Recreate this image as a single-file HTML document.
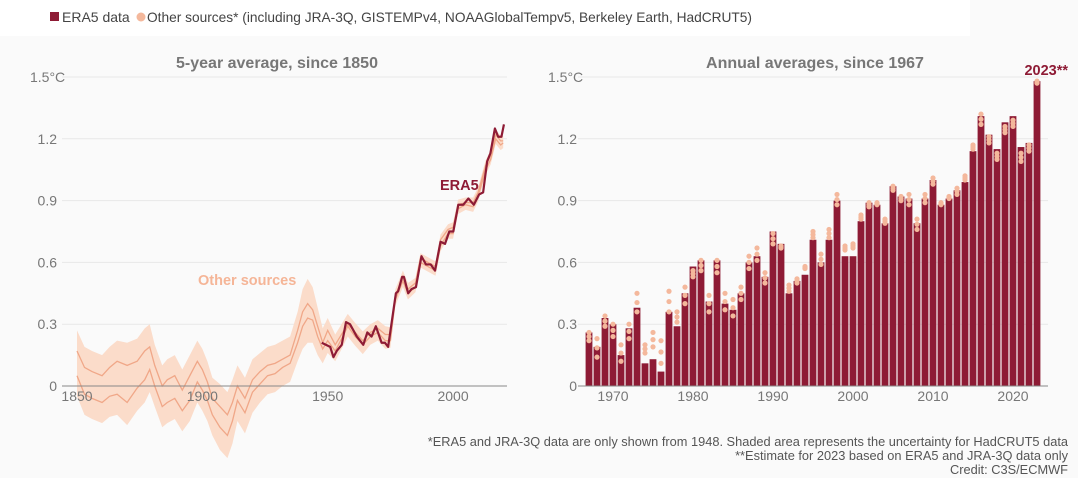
<!DOCTYPE html>
<html><head><meta charset="utf-8"><style>
html,body{margin:0;padding:0;background:#fafafa;}
body{width:1078px;height:478px;overflow:hidden;position:relative;font-family:"Liberation Sans",sans-serif;}
#legend{position:absolute;left:0;top:0;width:970px;height:36px;background:#fff;}
svg{position:absolute;left:0;top:0;}
</style></head><body>
<div id="legend"></div>
<svg id="c" width="1078" height="478"></svg>
<script>
// ---- Right chart data (annual averages) ----
const barYears=[1967,1968,1969,1970,1971,1972,1973,1974,1975,1976,1977,1978,1979,1980,1981,1982,1983,1984,1985,1986,1987,1988,1989,1990,1991,1992,1993,1994,1995,1996,1997,1998,1999,2000,2001,2002,2003,2004,2005,2006,2007,2008,2009,2010,2011,2012,2013,2014,2015,2016,2017,2018,2019,2020,2021,2022,2023];
const era5Annual=[0.26,0.19,0.33,0.30,0.15,0.28,0.38,0.11,0.13,0.07,0.36,0.29,0.45,0.58,0.61,0.41,0.61,0.40,0.37,0.45,0.60,0.63,0.53,0.75,0.69,0.45,0.51,0.54,0.71,0.60,0.71,0.90,0.63,0.63,0.80,0.89,0.88,0.79,0.97,0.92,0.91,0.79,0.91,1.00,0.88,0.91,0.95,0.99,1.14,1.31,1.22,1.15,1.28,1.31,1.16,1.18,1.48];
const otherLow=[0.22,0.14,0.29,0.24,0.12,0.23,0.36,0.16,0.19,0.11,0.36,0.31,0.40,0.53,0.56,0.36,0.55,0.37,0.34,0.42,0.57,0.61,0.50,0.69,0.67,0.46,0.50,0.57,0.72,0.59,0.72,0.88,0.66,0.67,0.81,0.87,0.88,0.79,0.95,0.90,0.88,0.76,0.89,0.98,0.88,0.91,0.93,1.00,1.15,1.27,1.18,1.10,1.23,1.26,1.09,1.14,1.47];
const otherHigh=[0.26,0.23,0.34,0.30,0.20,0.30,0.45,0.20,0.26,0.22,0.46,0.36,0.48,0.56,0.61,0.44,0.61,0.45,0.42,0.48,0.63,0.67,0.55,0.74,0.68,0.49,0.52,0.58,0.75,0.64,0.76,0.93,0.68,0.69,0.83,0.89,0.89,0.81,0.97,0.92,0.93,0.81,0.93,1.01,0.89,0.92,0.96,1.02,1.17,1.32,1.21,1.13,1.26,1.29,1.13,1.17,1.48];
const yTicks=[0,0.3,0.6,0.9,1.2,1.5];
const yTickLabels=["0","0.3","0.6","0.9","1.2","1.5°C"];
const xTicksRight=[1970,1980,1990,2000,2010,2020];
const xTicksLeft=[1850,1900,1950,2000];
// ---- Left chart data (5-year averages) ----
const eraYears=[1947.6,1951,1952.3,1953.6,1955.6,1957.3,1958.9,1961.6,1964.2,1965.8,1967.5,1969.2,1971.5,1972.8,1974.1,1977.2,1978.1,1979.7,1980.4,1982.1,1983.4,1985.2,1987.4,1989.2,1991.1,1992.8,1995,1996.8,1998.5,2000.1,2002.1,2004.1,2006.1,2008.3,2010.4,2012,2013.6,2014.9,2016.7,2018,2019.3,2020.3];
const eraVals=[0.21,0.19,0.14,0.17,0.20,0.31,0.30,0.24,0.20,0.26,0.24,0.29,0.21,0.21,0.19,0.45,0.46,0.53,0.53,0.45,0.47,0.48,0.63,0.59,0.59,0.56,0.70,0.69,0.75,0.75,0.88,0.88,0.91,0.88,0.93,0.94,1.09,1.13,1.25,1.21,1.21,1.27];
const otherYears=[1850,1853,1856,1860,1863,1866,1870,1874,1877,1879,1881,1884,1886,1889,1892,1895,1898,1900,1902,1904,1907,1910,1912,1914,1917,1920,1923,1926,1929,1932,1935,1938,1940,1942,1944,1946,1948,1950,1953,1956,1958,1961,1964,1967,1970,1973,1975,1977,1980,1982,1985,1987,1990,1993,1995,1998,2000,2002,2005,2008,2010,2013,2015,2017,2019,2020];
const otherA=[0.05,-0.04,-0.06,-0.08,-0.05,-0.04,-0.08,-0.01,0.03,0.08,0.0,-0.1,-0.08,-0.06,-0.12,-0.07,0.02,-0.02,-0.07,-0.14,-0.2,-0.24,-0.17,-0.07,-0.13,-0.03,0.01,0.05,0.06,0.09,0.11,0.21,0.29,0.33,0.32,0.24,0.18,0.22,0.17,0.24,0.29,0.24,0.20,0.24,0.26,0.22,0.22,0.42,0.51,0.45,0.48,0.60,0.58,0.56,0.68,0.74,0.74,0.86,0.88,0.87,0.92,1.05,1.10,1.20,1.17,1.18];
const otherB=[0.17,0.09,0.07,0.05,0.09,0.12,0.10,0.12,0.17,0.19,0.10,0.0,0.03,0.05,-0.02,0.05,0.12,0.08,0.02,-0.06,-0.10,-0.14,-0.08,0.0,-0.06,0.03,0.07,0.10,0.11,0.13,0.15,0.27,0.36,0.40,0.37,0.29,0.21,0.27,0.20,0.26,0.30,0.26,0.22,0.26,0.28,0.25,0.25,0.44,0.53,0.47,0.50,0.62,0.60,0.58,0.71,0.76,0.77,0.88,0.89,0.89,0.94,1.07,1.12,1.22,1.19,1.19];
const bandHalf=[0.10,0.10,0.10,0.10,0.10,0.10,0.11,0.11,0.11,0.11,0.10,0.10,0.10,0.10,0.10,0.10,0.10,0.10,0.10,0.10,0.11,0.11,0.11,0.10,0.10,0.10,0.09,0.09,0.09,0.09,0.09,0.09,0.11,0.12,0.11,0.09,0.07,0.06,0.05,0.05,0.05,0.045,0.045,0.04,0.04,0.04,0.035,0.03,0.03,0.03,0.025,0.025,0.025,0.025,0.025,0.025,0.025,0.025,0.025,0.025,0.025,0.025,0.025,0.025,0.025,0.025];

const NS="http://www.w3.org/2000/svg";
const svg=document.getElementById('c');
function mk(tag,attrs,parent){const e=document.createElementNS(NS,tag);for(const k in attrs)e.setAttribute(k,attrs[k]);(parent||svg).appendChild(e);return e;}
function txt(s,attrs,parent){const e=mk('text',attrs,parent);e.textContent=s;return e;}
const C_DARK="#8e1b35",C_PEACH="#f4b89c",C_BAND="#fbdcca",C_LINE="#f0a788";
const y0=386,yTop=77;
const yS=v=>y0-(v/1.5)*(y0-yTop);
const xL=yr=>77+(yr-1850)*2.507;
const xR=yr=>589+(yr-1967)*8.0;

// Legend
mk('rect',{x:50,y:12,width:9,height:9,fill:C_DARK,});
txt('ERA5 data',{x:62,y:22,'font-size':14,fill:'#444',});
mk('circle',{cx:141,cy:17,r:4.5,fill:C_PEACH,});
txt('Other sources* (including JRA-3Q, GISTEMPv4, NOAAGlobalTempv5, Berkeley Earth, HadCRUT5)',{x:147,y:22,'font-size':13.6,fill:'#444',textLength:605,lengthAdjust:'spacingAndGlyphs',});

// Titles
txt('5-year average, since 1850',{x:277,y:68,'font-size':16,'font-weight':'bold',fill:'#777','text-anchor':'middle',});
txt('Annual averages, since 1967',{x:815,y:68,'font-size':16,'font-weight':'bold',fill:'#777','text-anchor':'middle',});

// Grids and y labels
yTicks.forEach((t,i)=>{
  const y=yS(t);
  if(t>0){
    const g1=mk('line',{x1:62,x2:507,y1:y,y2:y,stroke:'#e8e8e8','stroke-width':1});
    
    const g2=mk('line',{x1:578,x2:1048,y1:y,y2:y,stroke:'#e8e8e8','stroke-width':1});
    
  }
  const l1=txt(yTickLabels[i],{x:t==1.5?30:57,y:y+5,'font-size':14,fill:'#777','text-anchor':t==1.5?'start':'end'});
  
  const l2=txt(yTickLabels[i],{x:t==1.5?548:577,y:y+5,'font-size':14,fill:'#777','text-anchor':t==1.5?'start':'end'});
  
});

// Left chart: band
let up=otherYears.map((yr,i)=>xL(yr)+','+yS(otherB[i]+bandHalf[i]));
let dn=otherYears.map((yr,i)=>xL(yr)+','+yS(otherA[i]-bandHalf[i])).reverse();
mk('polygon',{points:up.concat(dn).join(' '),fill:C_BAND,});
mk('polyline',{points:otherYears.map((yr,i)=>xL(yr)+','+yS(otherA[i])).join(' '),fill:'none',stroke:C_LINE,'stroke-width':1.3,});
mk('polyline',{points:otherYears.map((yr,i)=>xL(yr)+','+yS(otherB[i])).join(' '),fill:'none',stroke:C_LINE,'stroke-width':1.3,});
mk('polyline',{points:eraYears.map((yr,i)=>xL(yr)+','+yS(eraVals[i])).join(' '),fill:'none',stroke:C_DARK,'stroke-width':2.2,'stroke-linejoin':'round',});
mk('line',{x1:62,x2:507,y1:y0,y2:y0,stroke:'#888','stroke-width':1,});
xTicksLeft.forEach(t=>{
  const e=txt(String(t),{x:xL(t),y:401,'font-size':14,fill:'#777','text-anchor':'middle'});
  
});
txt('ERA5',{x:440,y:190,'font-size':14.5,'font-weight':'bold',fill:C_DARK,});
txt('Other sources',{x:198,y:285,'font-size':14.5,'font-weight':'bold',fill:'#f5b597',});

// Right chart: bars
barYears.forEach((yr,i)=>{
  const b=mk('rect',{x:xR(yr)-3.4,y:yS(era5Annual[i]),width:6.8,height:y0-yS(era5Annual[i]),fill:C_DARK});
  
  [otherLow[i],(otherLow[i]+otherHigh[i])/2,otherHigh[i]].forEach(v=>{
    const d=mk('circle',{cx:xR(yr),cy:yS(v),r:2.6,fill:C_PEACH});
    
  });
});
mk('line',{x1:578,x2:1048,y1:y0,y2:y0,stroke:'#888','stroke-width':1,});
xTicksRight.forEach(t=>{
  const e=txt(String(t),{x:xR(t),y:401,'font-size':14,fill:'#777','text-anchor':'middle'});
  
});
txt('2023**',{x:1068,y:75,'font-size':14.5,'font-weight':'bold',fill:C_DARK,'text-anchor':'end',});

// Footnotes
txt('*ERA5 and JRA-3Q data are only shown from 1948. Shaded area represents the uncertainty for HadCRUT5 data',{x:1068,y:446,'font-size':12.8,fill:'#555','text-anchor':'end',});
txt('**Estimate for 2023 based on ERA5 and JRA-3Q data only',{x:1068,y:460,'font-size':12.8,fill:'#555','text-anchor':'end',});
txt('Credit: C3S/ECMWF',{x:1068,y:474,'font-size':12.8,fill:'#555','text-anchor':'end',});
</script>
</body></html>
